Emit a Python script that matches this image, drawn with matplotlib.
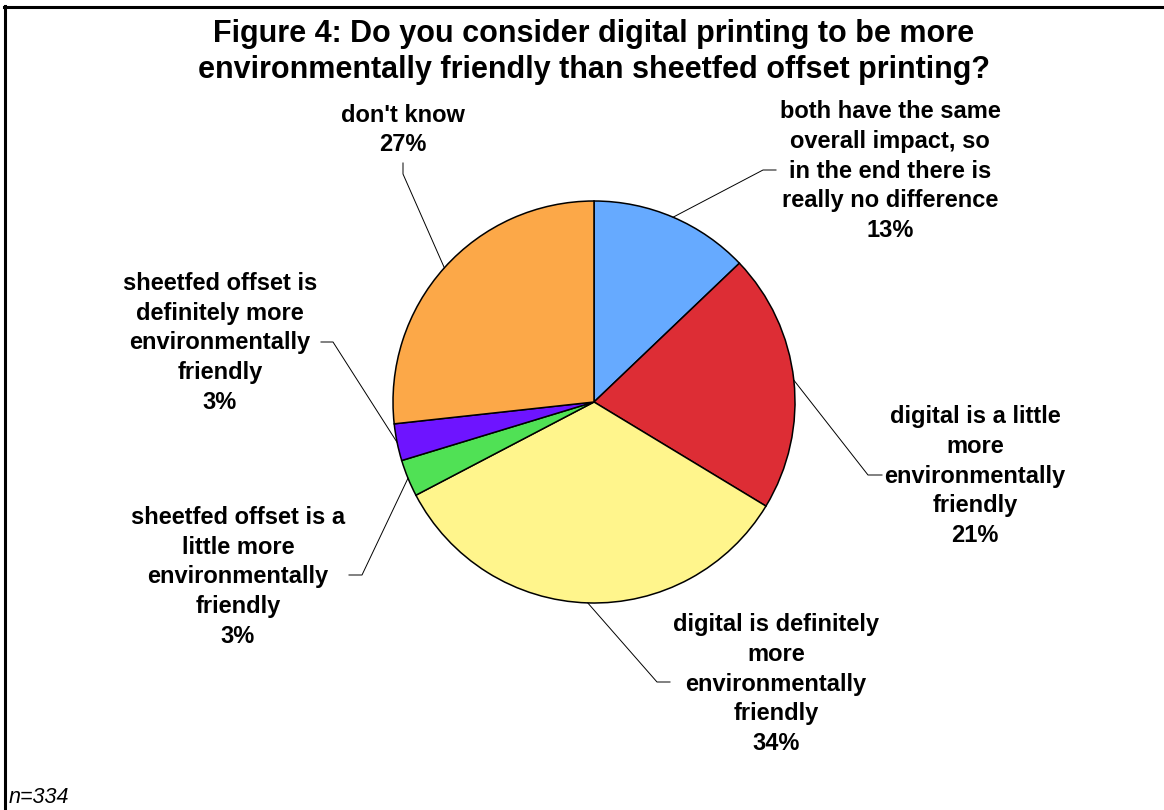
import numpy as np
import matplotlib.pyplot as plt
from matplotlib.lines import Line2D

W, H = 1164, 810

labels = [
    "both have the same\noverall impact, so\nin the end there is\nreally no difference",
    "digital is a little\nmore\nenvironmentally\nfriendly",
    "digital is definitely\nmore\nenvironmentally\nfriendly",
    "sheetfed offset is a\nlittle more\nenvironmentally\nfriendly",
    "sheetfed offset is\ndefinitely more\nenvironmentally\nfriendly",
    "don't know",
]
shares = [13, 21, 34, 3, 3, 27]
colors = ["#66AAFF", "#DD2D35", "#FFF58C", "#50E155", "#6E14FF", "#FCA848"]

title = ("Figure 4: Do you consider digital printing to be more\n"
         "environmentally friendly than sheetfed offset printing?")
note = "n=334"

# label placement in pixel units (x, y of text centre), elbow point and tail end
label_xy = [(890, 171), (975, 476), (776, 684), (238, 577), (220, 343), (403, 130)]
elbow_xy = [(763, 170), (868, 475), (657, 682), (362, 575), (333, 342), (403, 174)]
tail_xy = [(776, 170), (882, 475), (670, 682), (349, 575), (321, 342), (403, 163)]

CX, CY, R = 594, 402, 201
FONT = "Liberation Sans"


def py(y):
    return H - y


fig = plt.figure(figsize=(W / 100, H / 100), dpi=100)
ax = fig.add_axes([0, 0, 1, 1])

wedges, _ = ax.pie(
    shares,
    colors=colors,
    startangle=90,
    counterclock=False,
    center=(CX, py(CY)),
    radius=R,
    frame=True,
    wedgeprops=dict(edgecolor="black", linewidth=1.1),
)
ax.set_xlim(0, W)
ax.set_ylim(0, H)
ax.set_aspect("equal")
ax.axis("off")

for w, lab, v, (lx, ly), (ex, ey), (tx, ty) in zip(
        wedges, labels, shares, label_xy, elbow_xy, tail_xy):
    mid = np.deg2rad((w.theta1 + w.theta2) / 2)
    rx = CX + R * np.cos(mid)
    ry = py(CY) + R * np.sin(mid)
    ax.plot([rx, ex, tx], [ry, py(ey), py(ty)], color="black", lw=0.7)
    ax.text(lx, py(ly), f"{lab}\n{v}%", ha="center", va="center",
            fontsize=17, fontweight="bold", family=FONT, linespacing=1.38)

ax.text(594, py(52), title, ha="center", va="center", fontsize=22,
        fontweight="bold", family=FONT, linespacing=1.22)
ax.text(9, py(803), note, ha="left", va="baseline", fontsize=15.5,
        style="italic", family=FONT)

# outer frame: top and left edges only
fig.add_artist(Line2D([4 / W, 1], [1 - 6.5 / H, 1 - 6.5 / H], color="black", lw=2.2,
                      transform=fig.transFigure))
fig.add_artist(Line2D([5 / W, 5 / W], [0, 1 - 5.5 / H], color="black", lw=2.2,
                      transform=fig.transFigure))

fig.savefig("out.png", dpi=100)
